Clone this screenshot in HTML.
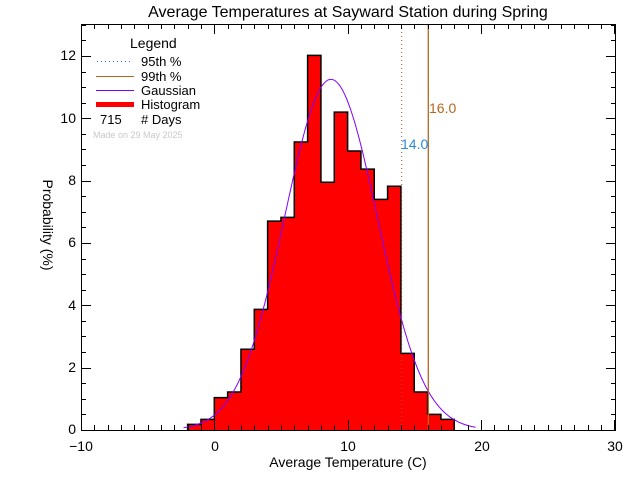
<!DOCTYPE html>
<html><head><meta charset="utf-8"><style>
html,body{margin:0;padding:0;background:#fff;}
svg{display:block;font-family:"Liberation Sans",sans-serif;}
</style></head><body>
<svg id="s" width="640" height="480" viewBox="0 0 640 480" xmlns="http://www.w3.org/2000/svg">
<rect width="640" height="480" fill="#fff"/>
<g id="bars"></g>
<polyline id="gauss" fill="none" stroke="#8000ff" stroke-width="1"/>
<line x1="401.7" y1="24" x2="401.7" y2="430" stroke="#a0522d" stroke-width="1" stroke-dasharray="1,3"/>
<line x1="428.3" y1="24" x2="428.3" y2="430" stroke="#b8661e" stroke-width="1.3"/>
<text x="401" y="149" font-size="14" fill="#2a8ae0">14.0</text>
<text x="429" y="113" font-size="14" fill="#b8661e">16.0</text>
<g id="ticks" stroke="#000" stroke-width="1"></g>
<rect x="81.5" y="24.5" width="534" height="406" fill="none" stroke="#000" stroke-width="1"/>
<text x="348" y="17" font-size="16" text-anchor="middle">Average Temperatures at Sayward Station during Spring</text>
<text x="348" y="467" font-size="14" text-anchor="middle">Average Temperature (C)</text>
<g font-size="14" text-anchor="middle">
<text x="81" y="451">−10</text><text x="215" y="451">0</text><text x="348" y="451">10</text><text x="482" y="451">20</text><text x="615" y="451">30</text></g>
<g font-size="14" text-anchor="end">
<text x="76" y="434">0</text><text x="76" y="372">2</text><text x="76" y="310">4</text><text x="76" y="247">6</text><text x="76" y="185">8</text><text x="76" y="123">10</text><text x="76" y="60">12</text></g>
<text transform="translate(43,225) rotate(90)" font-size="14" text-anchor="middle">Probability  (%)</text>
<text x="130" y="48" font-size="14">Legend</text>
<line x1="97" y1="61.5" x2="132" y2="61.5" stroke="#2a6ae0" stroke-dasharray="1,3"/>
<text x="141" y="66" font-size="13">95th %</text>
<line x1="96" y1="76.5" x2="134" y2="76.5" stroke="#b8661e"/>
<text x="141" y="81" font-size="13">99th %</text>
<line x1="96" y1="90.5" x2="134" y2="90.5" stroke="#8000ff"/>
<text x="141" y="95" font-size="13">Gaussian</text>
<rect x="96" y="102" width="38" height="5" fill="#f00"/>
<text x="141" y="109" font-size="13">Histogram</text>
<text x="100" y="124" font-size="13">715</text>
<text x="141" y="124" font-size="13"># Days</text>
<text x="93" y="138" font-size="9" fill="#c8c8c8">Made on 29 May 2025</text>
</svg>
<script>
var ns="http://www.w3.org/2000/svg";
function X(v){return 214.3+v*13.33;}
function Y(v){return 430-v*31.17;}
var h=[0.18,0.34,1.04,1.22,2.59,3.87,6.7,6.82,9.24,12.02,7.95,10.2,8.95,8.37,7.4,7.82,2.46,1.22,0.5,0.34];
var d="M"+X(-2)+","+Y(0);
var b=document.getElementById("bars");
for(var i=0;i<h.length;i++){var x0=X(-2+i),x1=X(-1+i);
 var r=document.createElementNS(ns,"rect");r.setAttribute("x",x0);r.setAttribute("y",Y(h[i]));r.setAttribute("width",x1-x0+0.5);r.setAttribute("height",Y(0)-Y(h[i]));r.setAttribute("fill","#f00");b.appendChild(r);
 d+=" L"+x0+","+Y(h[i])+" L"+x1+","+Y(h[i]);}
d+=" L"+X(18)+","+Y(0);
var p=document.createElementNS(ns,"path");p.setAttribute("d",d);p.setAttribute("fill","none");p.setAttribute("stroke","#000");p.setAttribute("stroke-width","1.5");b.appendChild(p);
var pts=[];for(var v=-2.3;v<=19.7;v+=0.1){pts.push(X(v).toFixed(1)+","+Y(11.25*Math.exp(-(v-8.75)*(v-8.75)/(2*3.48*3.48))).toFixed(1));}
document.getElementById("gauss").setAttribute("points",pts.join(" "));
var t=document.getElementById("ticks");
function L(a,b2,c,e){var l=document.createElementNS(ns,"line");l.setAttribute("x1",a);l.setAttribute("y1",b2);l.setAttribute("x2",c);l.setAttribute("y2",e);t.appendChild(l);}
for(var v=-10;v<=30;v++){var x=Math.round(X(v))+0.5,len=(v%10==0)?10:5;L(x,430,x,430-len);L(x,24,x,24+len);}
for(var k=0;k<=26;k++){var y=Math.round(Y(k*0.5))+0.5,len=(k%4==0)?10:5;L(81,y,81+len,y);L(616,y,616-len,y);}
</script>
</body></html>
